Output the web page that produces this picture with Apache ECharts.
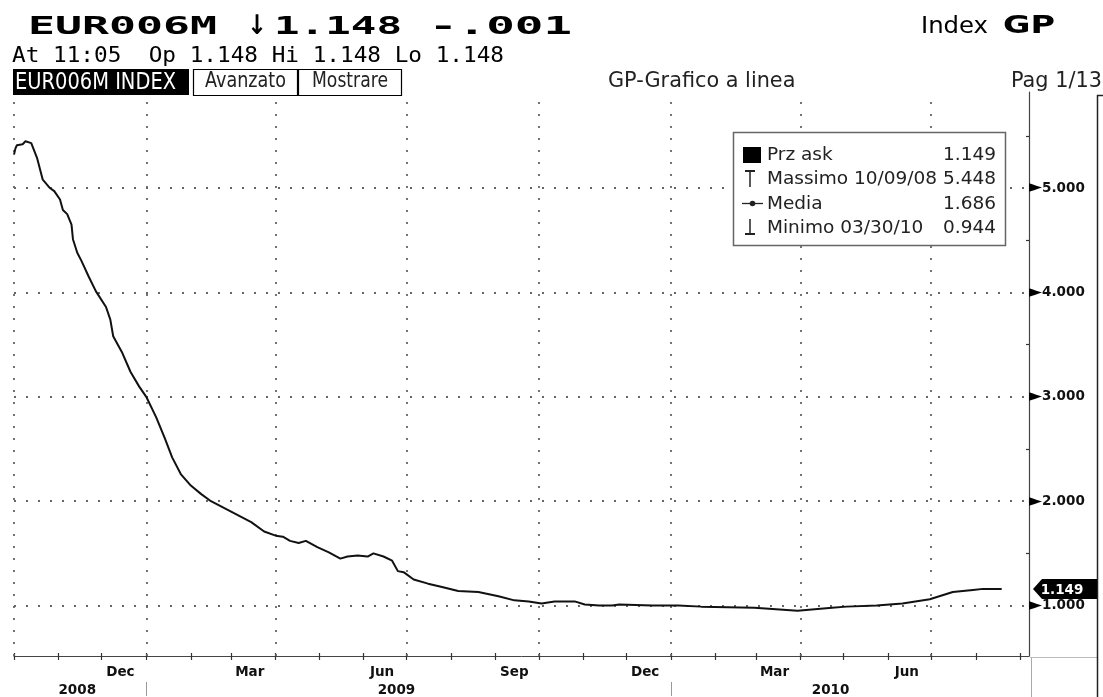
<!DOCTYPE html>
<html>
<head>
<meta charset="utf-8">
<script src="https://cdn.jsdelivr.net/npm/echarts@6/dist/echarts.min.js"></script>
<style>
html,body{margin:0;padding:0;background:#fff;overflow:hidden;}
#c{width:1103px;height:697px;}
</style>
</head>
<body>
<div id="c"></div>
<script>
// ---------------- data ----------------
const dates = [
'2008-10-01','2008-10-02','2008-10-03','2008-10-07','2008-10-09','2008-10-13','2008-10-17','2008-10-21',
'2008-10-26','2008-10-29','2008-11-02','2008-11-04','2008-11-07','2008-11-10','2008-11-11','2008-11-14',
'2008-11-17','2008-11-22','2008-11-27','2008-12-04','2008-12-07','2008-12-09','2008-12-15','2008-12-21',
'2008-12-27','2009-01-01','2009-01-08','2009-01-14','2009-01-19','2009-01-25','2009-02-01','2009-02-08',
'2009-02-15','2009-02-22','2009-03-01','2009-03-08','2009-03-15','2009-03-24','2009-04-01','2009-04-06',
'2009-04-11','2009-04-17','2009-04-22','2009-04-30','2009-05-08','2009-05-16','2009-05-21','2009-05-28',
'2009-06-04','2009-06-08','2009-06-15','2009-06-21','2009-06-25','2009-06-29','2009-07-06','2009-07-16',
'2009-07-25','2009-08-06','2009-08-20','2009-09-03','2009-09-14','2009-09-24','2009-10-03','2009-10-12',
'2009-10-26','2009-11-02','2009-11-12','2009-11-21','2009-11-26','2009-12-19','2010-01-06','2010-01-22',
'2010-02-28','2010-03-30','2010-04-23','2010-05-03','2010-05-24','2010-06-11','2010-06-30','2010-07-16',
'2010-07-30','2010-08-06','2010-08-19'
];
const values = [
5.32,5.38,5.41,5.42,5.448,5.43,5.29,5.08,
5.00,4.97,4.89,4.79,4.75,4.65,4.51,4.38,
4.30,4.15,4.01,3.86,3.74,3.58,3.43,3.24,
3.10,3.00,2.80,2.60,2.42,2.26,2.15,2.07,
2.00,1.95,1.90,1.85,1.80,1.71,1.67,1.66,
1.62,1.60,1.62,1.56,1.51,1.45,1.47,1.48,
1.47,1.50,1.47,1.43,1.33,1.32,1.25,1.21,
1.18,1.14,1.13,1.09,1.05,1.04,1.02,1.04,
1.04,1.01,1.00,1.00,1.01,1.00,1.00,0.99,
0.98,0.95,0.98,0.99,1.00,1.02,1.06,1.13,
1.15,1.16,1.16
];
const monthTickDates = [
'2008-10-01','2008-11-01','2008-12-01','2009-01-01','2009-02-01','2009-03-01','2009-04-01','2009-05-01',
'2009-06-01','2009-07-01','2009-08-01','2009-09-01','2009-10-01','2009-11-01','2009-12-01','2010-01-01',
'2010-02-01','2010-03-01','2010-04-01','2010-05-01','2010-06-01','2010-07-01','2010-08-01','2010-09-01'
];
const gridDates = ['2008-10-01','2009-01-01','2009-04-01','2009-07-01','2009-10-01','2010-01-01','2010-04-01','2010-07-01'];
const monthLabelDates = ['2008-12-14','2009-03-14','2009-06-14','2009-09-14','2009-12-14','2010-03-14','2010-06-14'];
const monthLabels = ['Dec','Mar','Jun','Sep','Dec','Mar','Jun'];
const yearLabelDates = ['2008-11-14','2009-06-24','2010-04-22'];
const yearLabels = ['2008','2009','2010'];
const yearBreakDates = ['2009-01-01','2010-01-01'];
const xRange = ['2008-10-01','2010-09-07'];
const yTicks = [1,2,3,4,5];
const yMinorTicks = [1.5,2.5,3.5,4.5,5.5];
const yTickLabels = ['1.000','2.000','3.000','4.000','5.000'];
const yRange = [0.517,5.92];
const legendNames = ['Prz ask','Massimo 10/09/08','Media','Minimo 03/30/10'];
const legendValues = ['1.149','5.448','1.686','0.944'];
const lastPrice = 1.149;
const lastPriceLabel = '1.149';
const headerMain = ['EUR006M','\u2193','1.148','-.001'];
const headerSub = 'At 11:05  Op 1.148 Hi 1.148 Lo 1.148';

// ---------------- helpers ----------------
const T = s => Date.UTC(+s.slice(0,4), +s.slice(5,7)-1, +s.slice(8,10));
const mctx = document.createElement('canvas').getContext('2d');
function fit(text, font, target){ mctx.font = font; const w = mctx.measureText(text).width; return w ? target / w : 1; }
const monthMap = new Map(monthLabelDates.map((d,i)=>[T(d), monthLabels[i]]));
const yearMap = new Map(yearLabelDates.map((d,i)=>[T(d), yearLabels[i]]));
const yLabMap = new Map(yTicks.map((v,i)=>[v, yTickLabels[i]]));

const FONT = 'DejaVu Sans';
const dotted = {type:[2,10], color:'#666', width:1.8};

const chart = echarts.init(document.getElementById('c'), null, {renderer:'canvas'});

const xBase = {type:'value', min:T(xRange[0]), max:T(xRange[1]), gridIndex:0, position:'bottom', splitLine:{show:false}};

chart.setOption({
  animation:false,
  backgroundColor:'#fff',
  grid:{left:14, right:74, top:92, bottom:40, containLabel:false},
  xAxis:[
    Object.assign({}, xBase, {
      axisLine:{show:true, lineStyle:{color:'#444', width:1}},
      axisTick:{show:true, customValues:monthTickDates.map(T), length:4, lineStyle:{color:'#333', width:1.2}},
      axisLabel:{show:true, customValues:monthLabelDates.map(T), margin:9,
        formatter:v=>monthMap.get(v)||'', fontFamily:FONT, fontWeight:'bold', fontSize:13.5, color:'#111'}
    }),
    Object.assign({}, xBase, {
      axisLine:{show:false},
      axisTick:{show:true, inside:true, customValues:monthTickDates.map(T), length:3, lineStyle:{color:'#333', width:1.2}},
      axisLabel:{show:false}
    }),
    Object.assign({}, xBase, {
      offset:26,
      axisLine:{show:false},
      axisTick:{show:true, customValues:yearBreakDates.map(T), length:14, lineStyle:{color:'#999', width:1}},
      axisLabel:{show:true, customValues:yearLabelDates.map(T), margin:1,
        formatter:v=>yearMap.get(v)||'', fontFamily:FONT, fontWeight:'bold', fontSize:13.5, color:'#111'}
    })
  ],
  yAxis:[{
    type:'value', position:'right', min:yRange[0], max:yRange[1],
    axisLine:{show:true, lineStyle:{color:'#444', width:1.2}},
    axisTick:{show:true, inside:true, customValues:yMinorTicks, length:3, lineStyle:{color:'#333', width:1.2}},
    axisLabel:{show:true, customValues:yTicks, margin:0,
      formatter:v=>'{a|\u25BA}{b|'+(yLabMap.get(v)||v.toFixed(3))+'}',
      rich:{a:{fontFamily:FONT, fontSize:17, color:'#000', padding:[0,0,0,0]},
            b:{fontFamily:FONT, fontWeight:'bold', fontSize:13.5, color:'#111'}}},
    splitLine:{show:false}
  }],
  series:[{
    type:'line', xAxisIndex:0, yAxisIndex:0,
    data:dates.map((d,i)=>[T(d), values[i]]),
    showSymbol:false, symbol:'none',
    lineStyle:{color:'#111', width:2},
    z:5,
    markLine:{
      silent:true, symbol:['none','none'], label:{show:false}, animation:false,
      lineStyle:dotted,
      emphasis:{disabled:true},
      data: gridDates.map(d=>({xAxis:T(d)})).concat(yTicks.map(v=>({yAxis:v})))
    }
  }]
});

// ---------------- decorations / texts ----------------
const g = [];
const bigFont = 'bold 25px "DejaVu Sans Mono"';
const arrowFont = 'bold 27px "DejaVu Sans"';
const bigPos = [[28,189,bigFont],[247,20,arrowFont],[274,128,bigFont],[429,143,bigFont]];
headerMain.forEach((s,i)=>{
  const f = bigPos[i][2];
  g.push({type:'text', x:bigPos[i][0], y:27, scaleX:fit(s,f,bigPos[i][1]), z:100,
    style:{text:s, font:f, fill:'#000', align:'left', verticalAlign:'middle'}});
});
const subFont = '22px "DejaVu Sans Mono"';
g.push({type:'text', x:12, y:56, scaleX:fit(headerSub,subFont,492), z:100,
  style:{text:headerSub, font:subFont, fill:'#000', align:'left', verticalAlign:'middle'}});

// Index GP
const idxFont = '23px "DejaVu Sans"';
g.push({type:'text', x:921, y:27, scaleX:fit('Index',idxFont,67), z:100,
  style:{text:'Index', font:idxFont, fill:'#000', align:'left', verticalAlign:'middle'}});
const gpFont = 'bold 24px "DejaVu Sans"';
g.push({type:'text', x:1003, y:27, scaleX:fit('GP',gpFont,52), z:100,
  style:{text:'GP', font:gpFont, fill:'#000', align:'left', verticalAlign:'middle'}});

// buttons row
g.push({type:'rect', shape:{x:13,y:69,width:176,height:26}, z:100, style:{fill:'#000'}});
const btnFont = '23px "DejaVu Sans"';
g.push({type:'text', x:15, y:83, scaleX:fit('EUR006M INDEX',btnFont,161), z:101,
  style:{text:'EUR006M INDEX', font:btnFont, fill:'#fff', align:'left', verticalAlign:'middle'}});
g.push({type:'rect', shape:{x:193.5,y:69.5,width:104,height:26}, z:100, style:{fill:'#fff', stroke:'#000', lineWidth:1.2}});
g.push({type:'rect', shape:{x:298.5,y:69.5,width:103,height:26}, z:100, style:{fill:'#fff', stroke:'#000', lineWidth:1.2}});
const btn2Font = '21px "DejaVu Sans"';
g.push({type:'text', x:205, y:82, scaleX:fit('Avanzato',btn2Font,81), z:101,
  style:{text:'Avanzato', font:btn2Font, fill:'#222', align:'left', verticalAlign:'middle'}});
g.push({type:'text', x:312, y:82, scaleX:fit('Mostrare',btn2Font,76), z:101,
  style:{text:'Mostrare', font:btn2Font, fill:'#222', align:'left', verticalAlign:'middle'}});

const titleFont = '20.8px "DejaVu Sans"';
g.push({type:'text', x:608, y:82, z:100,
  style:{text:'GP-Grafico a linea', font:titleFont, fill:'#222', align:'left', verticalAlign:'middle'}});
g.push({type:'text', x:1011, y:82, z:100,
  style:{text:'Pag 1/13', font:titleFont, fill:'#222', align:'left', verticalAlign:'middle'}});

// legend box
g.push({type:'rect', shape:{x:733.5,y:132.5,width:272,height:113}, z:100, style:{fill:'#fff', stroke:'#666', lineWidth:1.5}});
const rowsY = [155,179,204,228];
const legFont = '18.5px "DejaVu Sans"';
legendNames.forEach((n,i)=>{
  g.push({type:'text', x:767, y:rowsY[i], z:101, style:{text:n, font:legFont, fill:'#222', align:'left', verticalAlign:'middle'}});
  g.push({type:'text', x:996, y:rowsY[i], z:101, style:{text:legendValues[i], font:legFont, fill:'#222', align:'right', verticalAlign:'middle'}});
});
// icons
g.push({type:'rect', shape:{x:743,y:147,width:18,height:16}, z:101, style:{fill:'#000'}});
g.push({type:'line', shape:{x1:745,y1:171,x2:755,y2:171}, z:101, style:{stroke:'#222', lineWidth:2}});
g.push({type:'line', shape:{x1:750,y1:171,x2:750,y2:187}, z:101, style:{stroke:'#222', lineWidth:1.5}});
g.push({type:'line', shape:{x1:742,y1:203.5,x2:763,y2:203.5}, z:101, style:{stroke:'#222', lineWidth:1.3}});
g.push({type:'circle', shape:{cx:752.5,cy:203.5,r:2.8}, z:102, style:{fill:'#222'}});
g.push({type:'line', shape:{x1:750,y1:219,x2:750,y2:234}, z:101, style:{stroke:'#222', lineWidth:1.5}});
g.push({type:'line', shape:{x1:745,y1:234,x2:755,y2:234}, z:101, style:{stroke:'#222', lineWidth:2}});

// frame lines
g.push({type:'line', shape:{x1:1031.5,y1:657,x2:1031.5,y2:697}, z:100, style:{stroke:'#aaa', lineWidth:1}});
g.push({type:'line', shape:{x1:1030,y1:657.5,x2:1097,y2:657.5}, z:100, style:{stroke:'#bbb', lineWidth:1}});
g.push({type:'line', shape:{x1:1097.5,y1:95,x2:1097.5,y2:697}, z:100, style:{stroke:'#222', lineWidth:1.5}});
g.push({type:'line', shape:{x1:1097,y1:95.5,x2:1103,y2:95.5}, z:100, style:{stroke:'#222', lineWidth:1.5}});

// last price tag
const p = chart.convertToPixel({xAxisIndex:0, yAxisIndex:0}, [T(dates[dates.length-1]), lastPrice]);
const ty = Math.round(p[1]) - 1;
g.push({type:'polygon', shape:{points:[[1033,ty],[1042,ty-10],[1097,ty-10],[1097,ty+10],[1042,ty+10]]}, z:103, style:{fill:'#000'}});
g.push({type:'text', x:1062, y:ty+1, z:104, style:{text:lastPriceLabel, font:'bold 13.5px "DejaVu Sans"', fill:'#fff', align:'center', verticalAlign:'middle'}});

chart.setOption({graphic:{elements:g}});
</script>
</body>
</html>
